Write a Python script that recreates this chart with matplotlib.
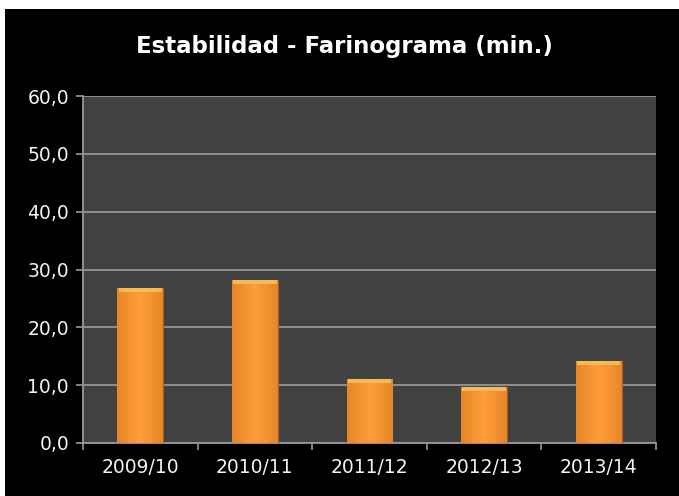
import numpy as np
import matplotlib.pyplot as plt
from matplotlib.patches import Rectangle

# Data
seasons = ['2009/10', '2010/11', '2011/12', '2012/13', '2013/14']
estabilidad = [26.8, 28.2, 11.1, 9.7, 14.2]
yticks = [0, 10, 20, 30, 40, 50, 60]
ytick_labels = ['0,0', '10,0', '20,0', '30,0', '40,0', '50,0', '60,0']

plt.rcParams['font.family'] = ['DejaVu Sans']

fig = plt.figure(figsize=(6.79, 4.96), dpi=100, facecolor='white')
# black chart area with thin white border at top/left
fig.patches.append(Rectangle((5 / 679, 0), 1, (496 - 9) / 496, transform=fig.transFigure,
                             facecolor='black', edgecolor='none', zorder=-10))

ax = fig.add_axes([83 / 679, 53 / 496, 573 / 679, 347 / 496])
ax.set_zorder(1)
ax.set_facecolor('#414141')

x = np.arange(len(seasons))
bars = ax.bar(x, estabilidad, width=0.4, color='#F39130', edgecolor='#A85A16',
              linewidth=0.8, zorder=3)

# bevel-ish gradient on each bar
grad = np.linspace(0, 1, 64)
prof = 1 - 0.55 * np.abs(grad - 0.5) * 2
img = np.zeros((1, 64, 4))
base = np.array([0.82, 0.45, 0.12])
light = np.array([1.0, 0.62, 0.22])
for i in range(64):
    img[0, i, :3] = base + (light - base) * prof[i]
    img[0, i, 3] = 1
for b in bars:
    bx, bw, bh = b.get_x(), b.get_width(), b.get_height()
    im = ax.imshow(img, extent=(bx, bx + bw, 0, bh), aspect='auto', zorder=3.5,
                   interpolation='bilinear')
    im.set_clip_path(b)
    # lighter top cap
    ax.add_patch(Rectangle((bx + 0.01, bh - 0.7), bw - 0.02, 0.7, facecolor='#FFBE55',
                           edgecolor='none', alpha=0.9, zorder=4))

ax.set_xlim(-0.5, len(seasons) - 0.5)
ax.set_ylim(0, 60)
ax.set_yticks(yticks)
ax.set_yticklabels(ytick_labels)
ax.set_xticks(x)
ax.set_xticklabels(seasons)
ax.set_xticks(np.arange(len(seasons) + 1) - 0.5, minor=True)
ax.tick_params(axis='x', which='major', length=0, pad=11, labelsize=13.5, labelcolor='#F2F2F2')
ax.tick_params(axis='x', which='minor', length=5, width=1.2, color='#999999', direction='out')
ax.tick_params(axis='y', length=5, width=1.2, color='#999999', labelsize=13.5,
               labelcolor='#F2F2F2', pad=5)

ax.grid(axis='y', color='#959595', linewidth=1.3, zorder=1)
ax.set_axisbelow(True)
for s in ['top', 'right']:
    ax.spines[s].set_visible(False)
for s in ['left', 'bottom']:
    ax.spines[s].set_color('#999999')
    ax.spines[s].set_linewidth(1.3)

fig.text(344 / 679, 1 - 47 / 496, 'Estabilidad - Farinograma (min.)', color='white',
         fontsize=16.5, fontweight='bold', ha='center', va='center')

fig.savefig('out.png', dpi=100, facecolor=fig.get_facecolor())
